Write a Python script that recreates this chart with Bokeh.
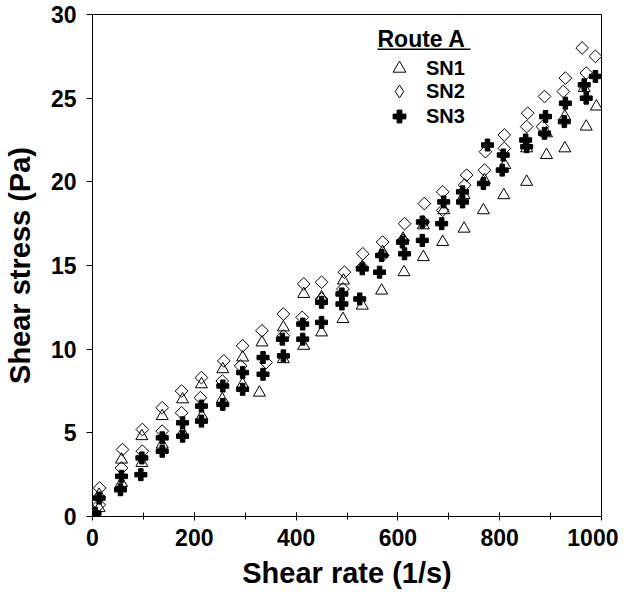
import numpy as np
from bokeh.plotting import figure
from bokeh.models import Range1d, Legend, LegendItem, Label, BoxAnnotation, SingleIntervalTicker
from bokeh.embed import file_html
from bokeh.resources import INLINE

# ---- data ----
# SN1 (open triangles): up and down sweeps
sn1_rate_up = [0, 13, 57, 97, 137, 177, 214, 256, 295, 333, 375, 415, 450, 493, 530, 570, 610, 650, 690, 730, 770, 810, 853, 892, 928, 966]
sn1_stress_up = [0.1, 1.3, 3.4, 4.8, 6.0, 7.0, 7.9, 8.8, 9.5, 10.4, 11.3, 13.3, 13.1, 14.1, 14.9, 15.8, 16.6, 17.4, 18.3, 19.2, 20.1, 21.0, 22.0, 22.9, 23.9, 25.6]
sn1_rate_down = [13, 57, 97, 137, 177, 215, 255, 295, 328, 375, 415, 450, 492, 530, 568, 612, 650, 688, 730, 768, 808, 853, 892, 928, 970, 990]
sn1_stress_down = [0.5, 2.0, 3.2, 4.3, 5.0, 6.0, 7.0, 7.9, 7.4, 9.4, 10.2, 11.0, 11.8, 12.6, 13.5, 14.6, 15.5, 16.4, 17.2, 18.3, 19.2, 20.0, 21.6, 22.0, 23.3, 24.5]

# SN2 (open diamonds)
sn2_rate_up = [0, 14, 59, 98, 137, 175, 214, 258, 295, 333, 375, 415, 450, 495, 531, 570, 613, 652, 688, 735, 772, 809, 855, 888, 929, 962, 988]
sn2_stress_up = [0.1, 1.7, 4.0, 5.2, 6.5, 7.5, 8.3, 9.3, 10.2, 11.1, 12.1, 13.9, 14.0, 14.6, 15.7, 16.4, 17.5, 18.7, 19.4, 20.4, 21.8, 22.8, 24.1, 25.1, 26.2, 28.0, 27.5]
sn2_rate_down = [13, 57, 98, 137, 175, 212, 255, 291, 341, 375, 412, 450, 492, 530, 570, 610, 650, 688, 731, 770, 809, 853, 884, 925, 970]
sn2_stress_down = [0.7, 2.9, 3.9, 5.1, 6.2, 7.1, 8.1, 9.0, 9.2, 10.8, 11.9, 13.0, 13.6, 14.9, 15.6, 16.5, 17.6, 18.3, 19.8, 20.7, 22.0, 23.3, 23.3, 25.4, 26.5]

# SN3 (filled crosses)
sn3_rate_up = [0, 13, 57, 97, 137, 177, 214, 256, 295, 335, 373, 413, 450, 490, 530, 568, 609, 648, 690, 727, 776, 807, 851, 890, 929, 966, 988]
sn3_stress_up = [0.1, 1.1, 2.4, 3.5, 4.7, 5.6, 6.6, 7.8, 8.6, 9.5, 10.6, 11.5, 12.8, 13.3, 14.8, 15.6, 16.4, 17.6, 18.8, 19.4, 22.2, 21.6, 22.5, 23.9, 24.7, 25.8, 26.3]
sn3_rate_down = [5, 55, 95, 137, 177, 214, 256, 295, 335, 375, 413, 450, 490, 525, 564, 613, 648, 686, 727, 768, 805, 853, 888, 927, 970]
sn3_stress_down = [0.2, 1.6, 2.5, 3.9, 4.8, 5.7, 6.7, 7.6, 8.5, 9.6, 10.6, 11.6, 12.7, 13.0, 14.6, 15.7, 16.5, 17.5, 18.8, 19.9, 20.7, 22.1, 22.9, 23.6, 25.0]

series_names = ["SN1", "SN2", "SN3"]
legend_title = "Route A"
x_label = "Shear rate (1/s)"
y_label = "Shear stress (Pa)"

FONT = "Liberation Sans"

p = figure(frame_width=509, frame_height=502,
           min_border_left=85, min_border_right=17, min_border_top=14, min_border_bottom=69,
           x_range=Range1d(0, 1000), y_range=Range1d(0, 30),
           output_backend="svg", toolbar_location=None, tools="")
p.background_fill_color = "white"
p.border_fill_color = "white"
p.outline_line_color = "black"
p.outline_line_width = 1
p.xgrid.grid_line_color = None
p.ygrid.grid_line_color = None

# axes
p.xaxis.ticker = SingleIntervalTicker(interval=200, num_minor_ticks=2)
p.yaxis.ticker = SingleIntervalTicker(interval=5, num_minor_ticks=0)
for ax in (p.xaxis[0], p.yaxis[0]):
    ax.axis_line_color = "black"
    ax.major_tick_line_color = "black"
    ax.minor_tick_line_color = "black"
    ax.major_label_text_font = FONT
    ax.major_label_text_font_style = "bold"
    ax.major_label_text_font_size = "23px"
    ax.major_label_text_color = "black"
    ax.axis_label_text_font = FONT
    ax.axis_label_text_font_style = "bold"
    ax.axis_label_text_font_size = "29px"
    ax.axis_label_text_color = "black"

p.xaxis.major_tick_in = 4
p.xaxis.major_tick_out = 4
p.xaxis.minor_tick_in = 4
p.xaxis.minor_tick_out = 3
p.xaxis.major_label_standoff = 8
p.xaxis.axis_label = x_label
p.xaxis.axis_label_standoff = 8

p.yaxis.major_tick_in = 0
p.yaxis.major_tick_out = 6
p.yaxis.minor_tick_line_color = None
p.yaxis.major_label_standoff = 10
p.yaxis.axis_label = y_label
p.yaxis.axis_label_standoff = 12

# markers
r1 = p.scatter(sn1_rate_up + sn1_rate_down, sn1_stress_up + sn1_stress_down,
               marker="triangle", size=12, fill_color="white", fill_alpha=0.0,
               line_color="black", line_width=1)
r2 = p.scatter(sn2_rate_up + sn2_rate_down, sn2_stress_up + sn2_stress_down,
               marker="square", angle=np.pi / 4, size=9, fill_color="white", fill_alpha=0.0,
               line_color="black", line_width=1)
r3 = p.scatter(sn3_rate_up + sn3_rate_down, sn3_stress_up + sn3_stress_down,
               marker="plus", size=12, fill_color="black", line_color="black", line_width=1)
# legend-only swatch for the diamond (legend glyphs are drawn unrotated); NaN keeps it off the plot
r2_key = p.scatter([np.nan], [np.nan], marker="diamond", size=12, fill_color="white", fill_alpha=0.0,
                   line_color="black", line_width=1)

# one single-row legend per series so each row sits where the reference puts it
legend_rows = [(series_names[0], r1, 432), (series_names[1], r2_key, 409), (series_names[2], r3, 384)]
for name, rend, ybot in legend_rows:
    lg = Legend(items=[LegendItem(label=name, renderers=[rend])],
                location=(285, ybot), padding=0, margin=0, spacing=0,
                glyph_width=44, glyph_height=32, label_height=20, label_standoff=5,
                label_text_font=FONT, label_text_font_style="bold",
                label_text_font_size="20px", label_text_color="black",
                border_line_color=None, background_fill_alpha=0.0)
    p.add_layout(lg, "center")

title_lbl = Label(x=285, y=477.5, x_units="screen", y_units="screen", text=legend_title,
                  text_font=FONT, text_font_style="bold", text_font_size="23px",
                  text_color="black", text_baseline="middle", text_align="left")
p.add_layout(title_lbl)
underline = BoxAnnotation(left=285, right=378, bottom=466.5, top=468,
                          left_units="screen", right_units="screen",
                          bottom_units="screen", top_units="screen",
                          fill_color="black", fill_alpha=1.0, line_color=None)
p.add_layout(underline)

open("out.html", "w").write(file_html(p, INLINE))
